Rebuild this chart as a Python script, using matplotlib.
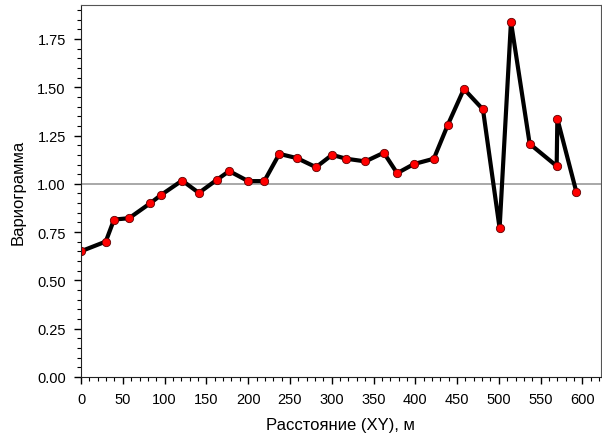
import matplotlib.pyplot as plt
from matplotlib.ticker import MultipleLocator

plt.rcParams['font.family'] = ['Liberation Sans', 'DejaVu Sans']

# Вариограмма по расстоянию
dist = [0, 29.6, 39.5, 57.5, 83, 96, 121, 141, 162.6, 177.3, 200, 219.3,
        237.3, 258.5, 281.2, 300.4, 317.2, 340.3, 362.3, 378.3, 398.2, 422.2,
        439, 458.2, 481, 500.9, 514.5, 536.9, 569.2, 570, 592.8]
gamma = [0.651, 0.701, 0.815, 0.822, 0.900, 0.943, 1.017, 0.953, 1.021, 1.066,
         1.014, 1.014, 1.155, 1.133, 1.086, 1.150, 1.130, 1.116, 1.161, 1.055,
         1.102, 1.130, 1.306, 1.491, 1.385, 0.770, 1.839, 1.207, 1.092, 1.337,
         0.957]
sill = 1.0

fig = plt.figure(figsize=(6.02, 4.39), dpi=100)
ax = fig.add_axes([0.1346, 0.139, 0.8634, 0.847])

ax.axhline(sill, color='#999999', lw=1.2, zorder=1)
ax.plot(dist, gamma, color='black', lw=3, zorder=2,
        marker='o', ms=6, mfc='red', mec='#600000', mew=0.6)

ax.set_xlim(0, 622)
ax.set_ylim(0, 1.925)
ax.xaxis.set_major_locator(MultipleLocator(50))
ax.xaxis.set_minor_locator(MultipleLocator(10))
ax.yaxis.set_major_locator(MultipleLocator(0.25))
ax.yaxis.set_minor_locator(MultipleLocator(0.05))
ax.yaxis.set_major_formatter(plt.FormatStrFormatter('%.2f'))

ax.tick_params(which='major', direction='out', length=5, width=1, labelsize=10.5, pad=6)
ax.tick_params(which='minor', direction='out', length=3, width=0.8)

for s in ['top', 'right']:
    ax.spines[s].set_color('#555555')
for s in ['left', 'bottom']:
    ax.spines[s].set_color('#222222')

ax.set_xlabel('Расстояние (XY), м', fontsize=12, labelpad=8)
ax.set_ylabel('Вариограмма', fontsize=12, labelpad=8)

fig.savefig('out.png', dpi=100)
